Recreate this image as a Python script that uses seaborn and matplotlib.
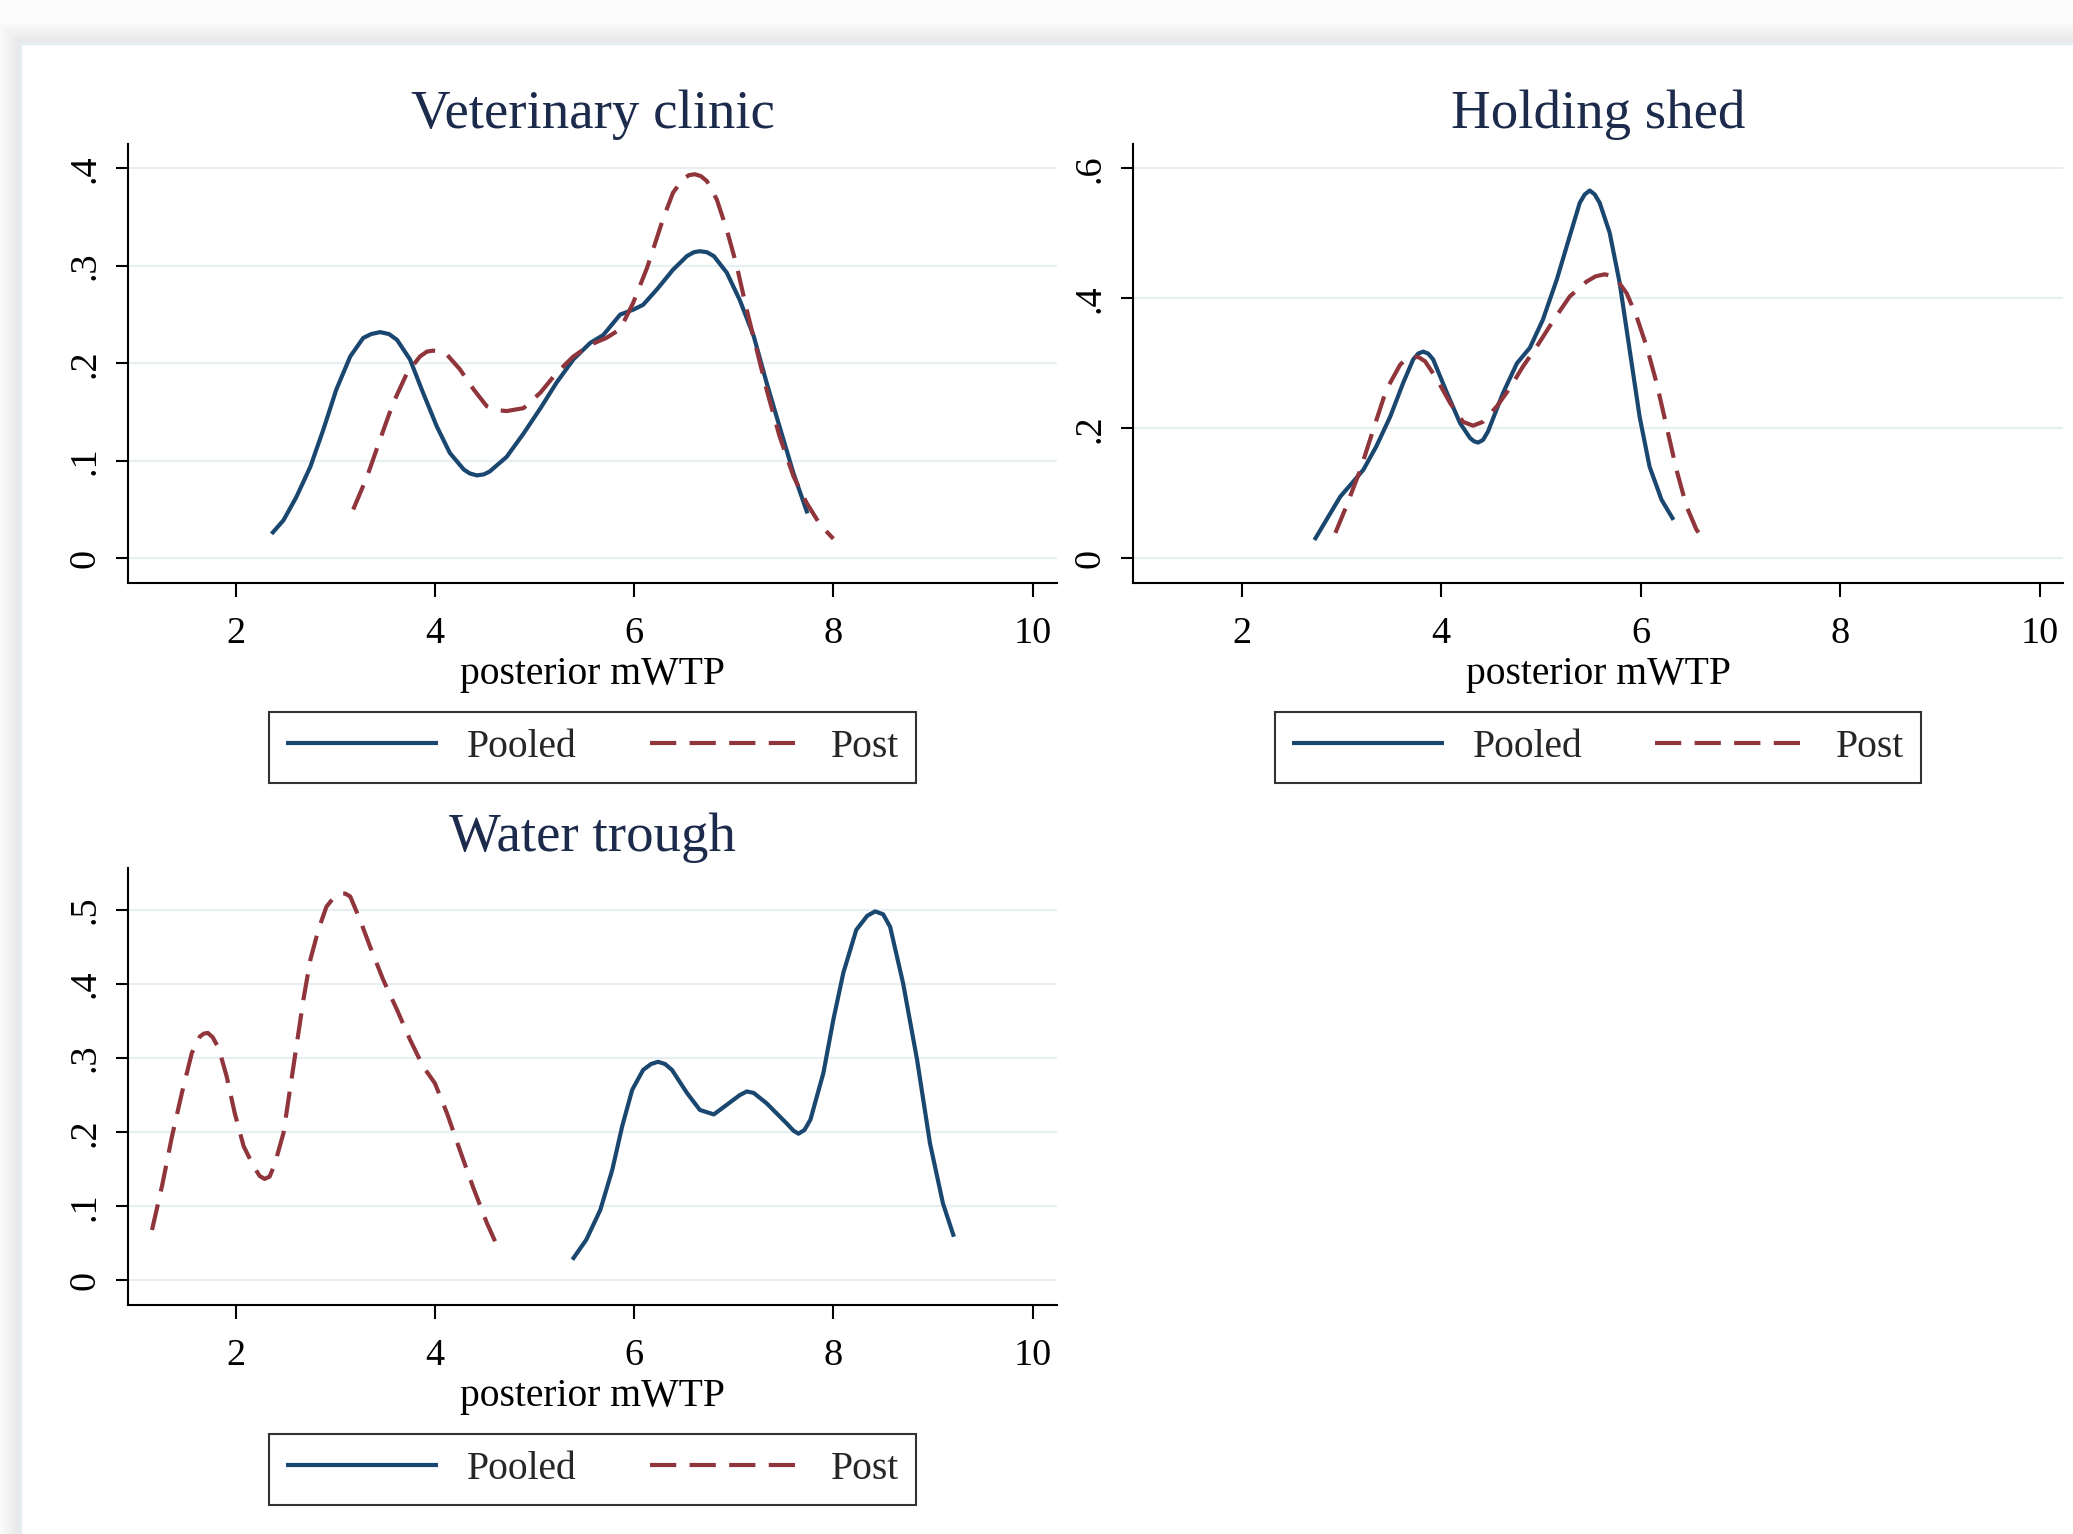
import numpy as np
import pandas as pd
import matplotlib
matplotlib.use("Agg")
import matplotlib.pyplot as plt
from matplotlib.patches import Rectangle
import seaborn as sns

# ---------------- data ----------------
titles = ["Veterinary clinic", "Holding shed", "Water trough"]
series_names = ["Pooled", "Post"]
x_label = "posterior mWTP"
x_ticks = [2, 4, 6, 8, 10]
x_ticklabels = ["2", "4", "6", "8", "10"]
y_ticks_vet = [0, 0.1, 0.2, 0.3, 0.4]
y_ticklabels_vet = ["0", ".1", ".2", ".3", ".4"]
y_ticks_shed = [0, 0.2, 0.4, 0.6]
y_ticklabels_shed = ["0", ".2", ".4", ".6"]
y_ticks_water = [0, 0.1, 0.2, 0.3, 0.4, 0.5]
y_ticklabels_water = ["0", ".1", ".2", ".3", ".4", ".5"]

vet_pooled_x = [2.36, 2.48, 2.61, 2.75, 2.88, 3.01, 3.15, 3.28, 3.36, 3.45, 3.54, 3.62, 3.75, 3.88,
                4.02, 4.15, 4.29, 4.35, 4.42, 4.49, 4.55, 4.72, 4.89, 5.06, 5.22, 5.39, 5.56, 5.69,
                5.86, 5.99, 6.09, 6.23, 6.39, 6.53, 6.60, 6.66, 6.73, 6.80, 6.93, 7.06, 7.20, 7.33,
                7.46, 7.60, 7.74]
vet_pooled_y = [0.025, 0.039, 0.063, 0.094, 0.132, 0.173, 0.207, 0.226, 0.230, 0.232, 0.230, 0.224, 0.204, 0.170,
                0.135, 0.108, 0.091, 0.087, 0.085, 0.086, 0.089, 0.104, 0.128, 0.154, 0.180, 0.204, 0.221, 0.229,
                0.250, 0.255, 0.260, 0.276, 0.296, 0.310, 0.314, 0.315, 0.314, 0.310, 0.293, 0.265, 0.228, 0.180,
                0.135, 0.087, 0.046]
vet_post_x = [3.18, 3.32, 3.45, 3.58, 3.72, 3.85, 3.92, 3.98, 4.05, 4.12, 4.25, 4.39, 4.52, 4.62, 4.72,
              4.89, 5.06, 5.22, 5.39, 5.56, 5.72, 5.86, 5.99, 6.13, 6.29, 6.39, 6.49, 6.55,
              6.61, 6.67, 6.73, 6.83, 6.93, 7.03, 7.13, 7.23, 7.33, 7.46, 7.60, 7.73, 7.87, 8.00]
vet_post_y = [0.050, 0.084, 0.122, 0.159, 0.190, 0.207, 0.212, 0.213, 0.212, 0.209, 0.194, 0.173, 0.156, 0.152, 0.151,
              0.154, 0.170, 0.190, 0.207, 0.219, 0.226, 0.235, 0.262, 0.298, 0.348, 0.375, 0.389, 0.393,
              0.394, 0.392, 0.387, 0.368, 0.337, 0.300, 0.255, 0.214, 0.173, 0.125, 0.084, 0.057, 0.034, 0.020]

shed_pooled_x = [2.73, 2.85, 2.99, 3.12, 3.22, 3.35, 3.49, 3.62, 3.72, 3.77, 3.82, 3.87, 3.92, 4.06,
                 4.19, 4.29, 4.33, 4.37, 4.42, 4.47, 4.62, 4.76, 4.89, 5.02, 5.16, 5.29, 5.39, 5.44, 5.49,
                 5.54, 5.59, 5.69, 5.79, 5.89, 5.99, 6.09, 6.21, 6.33]
shed_pooled_y = [0.028, 0.059, 0.095, 0.118, 0.136, 0.172, 0.218, 0.270, 0.306, 0.315, 0.318, 0.315, 0.306, 0.254,
                 0.208, 0.185, 0.180, 0.178, 0.182, 0.195, 0.254, 0.300, 0.324, 0.367, 0.429, 0.496, 0.547, 0.560, 0.566,
                 0.560, 0.547, 0.501, 0.424, 0.321, 0.218, 0.141, 0.090, 0.059]
shed_post_x = [2.94, 3.05, 3.19, 3.32, 3.45, 3.59, 3.66, 3.72, 3.78, 3.84, 3.96, 4.09, 4.22, 4.32,
               4.42, 4.56, 4.69, 4.82, 4.96, 5.13, 5.29, 5.46, 5.55, 5.64, 5.70, 5.76, 5.86, 5.96,
               6.06, 6.16, 6.26, 6.36, 6.46, 6.56, 6.66]
shed_post_y = [0.039, 0.080, 0.136, 0.198, 0.259, 0.298, 0.308, 0.311, 0.309, 0.303, 0.275, 0.239, 0.210, 0.204,
               0.210, 0.234, 0.262, 0.295, 0.326, 0.367, 0.403, 0.426, 0.434, 0.437, 0.435, 0.429, 0.408, 0.372,
               0.326, 0.270, 0.203, 0.136, 0.080, 0.044, 0.023]

water_pooled_x = [5.38, 5.52, 5.66, 5.78, 5.88, 5.98, 6.09, 6.17, 6.24, 6.31, 6.38, 6.53, 6.66, 6.80,
                  6.93, 7.06, 7.13, 7.20, 7.33, 7.53, 7.60, 7.65, 7.71, 7.77, 7.90, 8.00, 8.10, 8.23, 8.34, 8.42, 8.50, 8.57,
                  8.70, 8.84, 8.97, 9.10, 9.21]
water_pooled_y = [0.028, 0.055, 0.095, 0.149, 0.208, 0.257, 0.284, 0.292, 0.295, 0.292, 0.284, 0.253, 0.230, 0.224,
                  0.237, 0.250, 0.255, 0.253, 0.239, 0.212, 0.202, 0.198, 0.203, 0.217, 0.280, 0.352, 0.415, 0.473, 0.492, 0.498, 0.494, 0.477,
                  0.401, 0.298, 0.185, 0.104, 0.059]
water_post_x = [1.16, 1.26, 1.36, 1.46, 1.56, 1.64, 1.68, 1.72, 1.77, 1.83, 1.91, 1.99, 2.08, 2.18,
                2.24, 2.29, 2.34, 2.39, 2.48, 2.54, 2.61, 2.68, 2.75, 2.83, 2.91, 2.98, 3.05, 3.10, 3.15, 3.25,
                3.35, 3.48, 3.62, 3.75, 3.88, 4.00, 4.12, 4.25, 4.38, 4.52, 4.64]
water_post_y = [0.068, 0.127, 0.194, 0.253, 0.307, 0.329, 0.333, 0.334, 0.328, 0.313, 0.275, 0.226, 0.181, 0.154,
                0.141, 0.137, 0.140, 0.156, 0.199, 0.253, 0.316, 0.379, 0.433, 0.473, 0.504, 0.516, 0.522, 0.522, 0.518, 0.486,
                0.450, 0.406, 0.365, 0.325, 0.289, 0.266, 0.226, 0.176, 0.127, 0.078, 0.042]

# ---------------- style ----------------
sns.set_theme(style="white")
plt.rcParams["font.family"] = ["Liberation Serif", "DejaVu Serif"]

NAVY = "#1a476f"
MAROON = "#90353b"
GRID = "#e8eff2"
TITLE_C = "#1c2a4c"

W, H = 2073, 1534
fig = plt.figure(figsize=(W / 100, H / 100), dpi=100, facecolor="#fcfcfc")

# background: screenshot-like white panel with soft shadow
bg = fig.add_axes([0, 0, 1, 1], zorder=0)
bg.set_xlim(0, W)
bg.set_ylim(H, 0)
bg.axis("off")
px0, py0 = 20, 43
for s in range(1, 22):
    bg.add_patch(Rectangle((px0 - s, py0 - s), W + 100, H + 100,
                           facecolor="black", edgecolor="none", alpha=0.0055))
bg.add_patch(Rectangle((px0, py0), W + 100, H + 100, facecolor="white",
                       edgecolor="#e4eef0", linewidth=2.4))


def to_frac(x0, y0, x1, y1):
    return [x0 / W, 1 - y1 / H, (x1 - x0) / W, (y1 - y0) / H]


panels = [
    dict(rect=to_frac(127.7, 144.4, 1057.2, 582.7), title=titles[0],
         px=vet_pooled_x, py=vet_pooled_y, qx=vet_post_x, qy=vet_post_y,
         yt=y_ticks_vet, ytl=y_ticklabels_vet, ylim=(-0.0251, 0.4246),
         xlim=(0.916, 10.247), leg_y=747.5),
    dict(rect=to_frac(1133.4, 144.4, 2062.8, 582.7), title=titles[1],
         px=shed_pooled_x, py=shed_pooled_y, qx=shed_post_x, qy=shed_post_y,
         yt=y_ticks_shed, ytl=y_ticklabels_shed, ylim=(-0.0377, 0.637),
         xlim=(0.915, 10.233), leg_y=747.5),
    dict(rect=to_frac(127.7, 868.0, 1057.2, 1305.1), title=titles[2],
         px=water_pooled_x, py=water_pooled_y, qx=water_post_x, qy=water_post_y,
         yt=y_ticks_water, ytl=y_ticklabels_water, ylim=(-0.0333, 0.5565),
         xlim=(0.916, 10.247), leg_y=1469.5),
]

for p in panels:
    ax = fig.add_axes(p["rect"], zorder=1)
    ax.set_facecolor("none")
    df_pooled = pd.DataFrame({"x": p["px"], "y": p["py"]})
    df_post = pd.DataFrame({"x": p["qx"], "y": p["qy"]})
    sns.lineplot(data=df_pooled, x="x", y="y", ax=ax, color=NAVY, linewidth=3.0,
                 sort=False, estimator=None, label=series_names[0],
                 solid_joinstyle="round", solid_capstyle="butt")
    sns.lineplot(data=df_post, x="x", y="y", ax=ax, color=MAROON, linewidth=3.0,
                 sort=False, estimator=None, label=series_names[1],
                 linestyle=(0, (6.3, 3.2)), dash_joinstyle="round", dash_capstyle="butt")
    ax.set_xlim(*p["xlim"])
    ax.set_ylim(*p["ylim"])
    ax.set_xticks(x_ticks)
    ax.set_xticklabels(x_ticklabels)
    ax.set_yticks(p["yt"])
    ax.set_yticklabels(p["ytl"], rotation=90, va="center")
    ax.grid(False)
    for yv in p["yt"]:
        ax.axhline(yv, color=GRID, linewidth=1.6, zorder=0)
    for side in ["top", "right"]:
        ax.spines[side].set_visible(False)
    for side in ["left", "bottom"]:
        ax.spines[side].set_color("black")
        ax.spines[side].set_linewidth(1.5)
    ax.tick_params(axis="x", direction="out", length=10, width=1.5, colors="black",
                   labelsize=27.5, pad=14, bottom=True)
    ax.tick_params(axis="y", direction="out", length=8.5, width=1.5, colors="black",
                   labelsize=27.5, pad=10, left=True)
    ax.set_xlabel(x_label, fontsize=28.5, color="black", labelpad=4)
    ax.set_ylabel("")
    ax.set_title(p["title"], fontsize=39.5, color=TITLE_C, pad=12)

    handles, labels = ax.get_legend_handles_labels()
    x0f = p["rect"][0] + p["rect"][2] / 2
    leg = fig.legend(handles, labels, loc="center",
                     bbox_to_anchor=(x0f, 1 - p["leg_y"] / H),
                     ncol=2, fontsize=28.5, frameon=True, fancybox=False,
                     edgecolor="black", handlelength=3.85, handletextpad=0.72,
                     columnspacing=1.85, borderpad=0.42)
    leg.get_frame().set_linewidth(1.5)
    leg.set_zorder(2)
    if ax.get_legend() is not None:
        ax.get_legend().remove()

fig.savefig("out.png", dpi=100, facecolor=fig.get_facecolor())
